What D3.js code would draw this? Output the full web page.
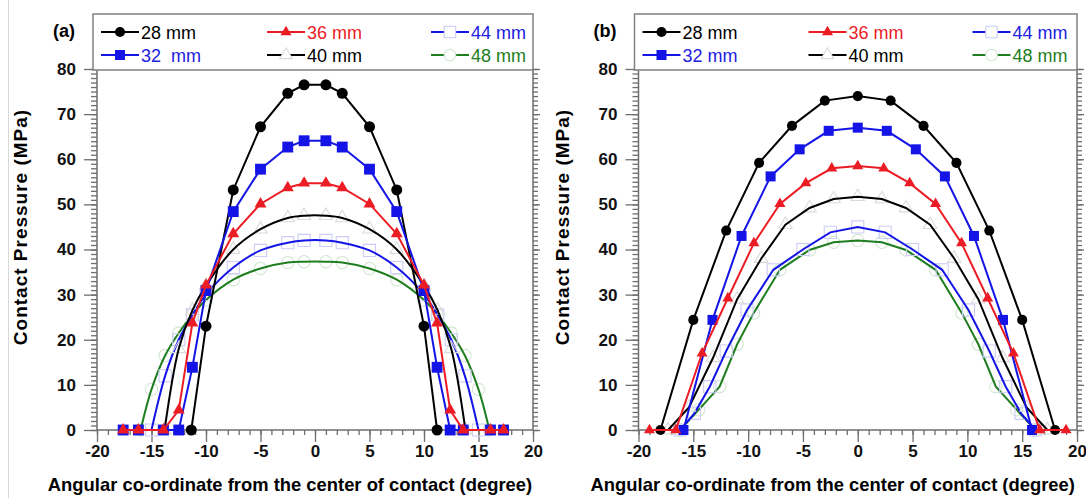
<!DOCTYPE html>
<html>
<head>
<meta charset="utf-8">
<script src="https://cdn.jsdelivr.net/npm/d3@7"></script>
<style>
  body { margin: 0; background: #fff; }
  text { font-family: "Liberation Sans", Arial, sans-serif; }
</style>
</head>
<body>
<div id="chart"></div>
<script>
// tick labels and texts
var xTicks = [-20, -15, -10, -5, 0, 5, 10, 15, 20];
var yTicks = [0, 10, 20, 30, 40, 50, 60, 70, 80];
var panelNames = ["(a)", "(b)"];
var legendA = ["28 mm", "32  mm", "36 mm", "40 mm", "44 mm", "48 mm"];
var legendB = ["28 mm", "32 mm", "36 mm", "40 mm", "44 mm", "48 mm"];
var xTitle = "Angular co-ordinate from the center of contact (degree)";
var yTitle = "Contact Pressure (MPa)";

// panel (a) values
var a28x = [-11.35, -10, -7.5, -5, -2.5, -1, 1, 2.5, 5, 7.5, 10, 11.2];
var a28y = [0, 23, 53.2, 67.2, 74.6, 76.5, 76.5, 74.6, 67.2, 53.2, 23, 0];
var a32x = [-17.6, -16.2, -13.9, -12.5, -11.25, -10, -7.5, -5, -2.5, -1, 1, 2.5, 5, 7.5, 10, 11.2, 12.4, 13.6, 16.1, 17.3];
var a32y = [0, 0, 0, 0, 13.9, 30.9, 48.4, 57.8, 62.7, 64.1, 64.1, 62.7, 57.8, 48.4, 30.9, 13.9, 0, 0, 0, 0];
var a36x = [-17.6, -16.2, -13.9, -12.5, -11.25, -10, -7.5, -5, -2.5, -1, 1, 2.5, 5, 7.5, 10, 11.2, 12.4, 13.6, 16.1, 17.3];
var a36y = [0, 0, 0, 4.4, 23.7, 32.1, 43.5, 50.1, 53.7, 54.7, 54.7, 53.7, 50.1, 43.5, 32.1, 23.7, 4.4, 0, 0, 0];
var a40x = [-13.8, -12.5, -11.25, -10, -7.5, -5, -2.5, -1, 1, 2.5, 5, 7.5, 10, 11.25, 12.5, 13.8];
var a40y = [0, 18, 26.5, 32, 40, 44.5, 47, 47.5, 47.5, 47, 44.5, 40, 32, 26.5, 18, 0];
var a44x = [-15, -13.75, -12.5, -11.25, -10, -7.5, -5, -2.5, -1, 1, 2.5, 5, 7.5, 10, 11.25, 12.5, 13.75, 15];
var a44y = [0, 12, 20, 25.5, 30, 36, 39.8, 41.5, 42, 42, 41.5, 39.8, 36, 30, 25.5, 20, 12, 0];
var a48x = [-16, -15, -13.75, -12.5, -11.25, -10, -7.5, -5, -2.5, -1, 1, 2.5, 5, 7.5, 10, 11.25, 12.5, 13.75, 15, 16];
var a48y = [0, 9, 16.5, 21.5, 25.5, 28.8, 33.3, 35.8, 37.1, 37.3, 37.3, 37.1, 35.8, 33.3, 28.8, 25.5, 21.5, 16.5, 9, 0];

// panel (b) values
var b28x = [-18, -15, -12, -9, -6, -3, 0, 3, 6, 9, 12, 15, 18];
var b28y = [0, 24.4, 44.2, 59.2, 67.4, 73, 74, 73, 67.4, 59.2, 44.2, 24.4, 0];
var b32x = [-15.9, -13.25, -10.6, -7.95, -5.3, -2.65, 0, 2.65, 5.3, 7.95, 10.6, 13.25, 15.9];
var b32y = [0, 24.4, 43, 56.2, 62.2, 66.3, 67, 66.3, 62.2, 56.2, 43, 24.4, 0];
var b36x = [-19, -16.6, -14.2, -11.85, -9.47, -7.1, -4.74, -2.37, 0, 2.37, 4.74, 7.1, 9.47, 11.85, 14.2, 16.6, 19];
var b36y = [0, 0, 17, 29.2, 41.4, 50.1, 54.7, 58, 58.5, 58, 54.7, 50.1, 41.4, 29.2, 17, 0, 0];
var b40x = [-17.3, -15.4, -13.2, -11, -8.8, -6.6, -4.4, -2.2, 0, 2.2, 4.4, 6.6, 8.8, 11, 13.2, 15.4, 17.3];
var b40y = [0, 5, 16, 29, 38, 45.5, 49.2, 51.2, 51.7, 51.2, 49.2, 45.5, 38, 29, 16, 5, 0];
var b44x = [-16.2, -14.9, -13.5, -12, -10.1, -7.7, -5, -2.5, 0, 2.5, 5, 7.7, 10.1, 12, 13.5, 14.9, 16.2];
var b44y = [0, 3.7, 9.6, 17.5, 26.6, 35.5, 40, 43.8, 45, 43.8, 40, 35.5, 26.6, 17.5, 9.6, 3.7, 0];
var b48x = [-16.2, -14.5, -12.6, -11, -9.5, -7.1, -4.4, -2.2, 0, 2.2, 4.4, 7.1, 9.5, 11, 12.6, 14.5, 16.2];
var b48y = [0, 4.5, 9.6, 19, 25.9, 35.5, 39.9, 41.6, 42, 41.6, 39.9, 35.5, 25.9, 19, 9.6, 4.5, 0];

// look of each series, in legend order 28, 32, 36, 40, 44, 48
var styles = [
  { color: "#000000", text: "#000000", shape: d3.symbolCircle, faint: false },
  { color: "#1414e6", text: "#2020e0", shape: d3.symbolSquare, faint: false },
  { color: "#ec1c24", text: "#ec1c24", shape: d3.symbolTriangle, faint: false },
  { color: "#000000", text: "#000000", shape: d3.symbolTriangle, faint: "#dadada" },
  { color: "#1414e6", text: "#2020e0", shape: d3.symbolSquare, faint: "#ccccf6" },
  { color: "#1e7d1e", text: "#1e7d1e", shape: d3.symbolCircle, faint: "#d2e6d2" }
];

var width = 1086, height = 498;
var plotTop = 69, plotBottom = 430;

var svg = d3.select("#chart").append("svg")
  .attr("width", width)
  .attr("height", height);

// thin grey edge at the left of the picture
svg.append("line")
  .attr("x1", 8.5).attr("x2", 8.5).attr("y1", 0).attr("y2", height)
  .attr("stroke", "#d8d8d8").attr("stroke-width", 1);

function zip(xs, ys) {
  return xs.map(function(x, i) { return [x, ys[i]]; });
}

function symbolSize(shape) {
  if (shape === d3.symbolCircle) return 95;
  if (shape === d3.symbolSquare) return 118;
  return 62;
}

function drawPanel(o) {
  var x = d3.scaleLinear().domain([-20, 20]).range([o.left, o.right]);
  var y = d3.scaleLinear().domain([0, 80]).range([plotBottom, plotTop]);
  var g = svg.append("g");
  var axisColor = "#6e6e6e";

  // minor ticks
  g.append("g").attr("transform", "translate(0," + plotBottom + ")")
    .call(d3.axisBottom(x).tickValues(d3.range(-20, 21, 1)).tickSize(5).tickFormat(""));
  g.append("g").attr("transform", "translate(" + o.left + ",0)")
    .call(d3.axisLeft(y).tickValues(d3.range(0, 81, 1)).tickSize(6).tickFormat(""));
  g.append("g").attr("transform", "translate(" + o.right + ",0)")
    .call(d3.axisRight(y).tickValues(d3.range(0, 81, 1)).tickSize(5).tickFormat(""));

  // major ticks with labels
  g.append("g").attr("transform", "translate(0," + plotBottom + ")")
    .call(d3.axisBottom(x).tickValues(xTicks).tickSize(12).tickPadding(3)
      .tickFormat(function(d) { return String(d); }));
  g.append("g").attr("transform", "translate(" + o.left + ",0)")
    .call(d3.axisLeft(y).tickValues(yTicks).tickSize(13).tickPadding(8)
      .tickFormat(function(d) { return String(d); }));
  g.append("g").attr("transform", "translate(" + o.right + ",0)")
    .call(d3.axisRight(y).tickValues(yTicks).tickSize(7).tickFormat(""));

  g.selectAll(".domain").remove();
  g.selectAll(".tick line").attr("stroke", axisColor).attr("stroke-width", 1.3);
  g.selectAll(".tick text")
    .attr("fill", "#111")
    .style("font-size", "17px")
    .style("font-weight", "bold");

  // frame
  g.append("rect")
    .attr("x", o.left).attr("y", plotTop)
    .attr("width", o.right - o.left).attr("height", plotBottom - plotTop)
    .attr("fill", "none").attr("stroke", axisColor).attr("stroke-width", 1.5);

  // faint series first: line + pale hollow markers
  var order = [5, 4, 3, 0, 1, 2];
  order.forEach(function(i) {
    var s = styles[i];
    var pts = o.series[i];
    var line = d3.line()
      .x(function(d) { return x(d[0]); })
      .y(function(d) { return y(d[1]); })
      .curve(s.faint && o.smooth ? d3.curveCatmullRom.alpha(0.5) : d3.curveLinear);
    if (s.faint) {
      g.append("g").selectAll("path").data(pts).enter().append("path")
        .attr("transform", function(d) { return "translate(" + x(d[0]) + "," + y(d[1]) + ")"; })
        .attr("d", d3.symbol().type(s.shape).size(symbolSize(s.shape) * 1.25))
        .attr("fill", "none").attr("stroke", s.faint).attr("stroke-width", 1.1);
    }
    g.append("path").datum(pts)
      .attr("d", line)
      .attr("fill", "none")
      .attr("stroke", s.color)
      .attr("stroke-width", 2);
    if (!s.faint) {
      g.append("g").selectAll("path").data(pts).enter().append("path")
        .attr("transform", function(d) { return "translate(" + x(d[0]) + "," + y(d[1]) + ")"; })
        .attr("d", d3.symbol().type(s.shape).size(symbolSize(s.shape) * o.mscale))
        .attr("fill", s.color);
    }
  });

  // legend box
  var bx = o.left - 4, by = 14;
  g.append("rect")
    .attr("x", bx).attr("y", by)
    .attr("width", o.right - bx).attr("height", plotTop - by + 1)
    .attr("fill", "#fff").attr("stroke", "#808080").attr("stroke-width", 1.5);

  var colX = [8, 174, 338];
  var rowY = [32, 55];
  var slot = [[0, 0], [0, 1], [1, 0], [1, 1], [2, 0], [2, 1]];
  o.labels.forEach(function(label, i) {
    var s = styles[i];
    var lx = bx + colX[slot[i][0]];
    var ly = rowY[slot[i][1]];
    g.append("line")
      .attr("x1", lx).attr("x2", lx + 38)
      .attr("y1", ly).attr("y2", ly)
      .attr("stroke", s.color).attr("stroke-width", 2);
    g.append("path")
      .attr("transform", "translate(" + (lx + 19) + "," + ly + ")")
      .attr("d", d3.symbol().type(s.shape).size(symbolSize(s.shape) * (s.faint ? 1.1 : 0.85)))
      .attr("fill", s.faint ? "#fff" : s.color)
      .attr("stroke", s.faint ? s.faint : "none")
      .attr("stroke-width", 1.1);
    g.append("text")
      .attr("x", lx + 40).attr("y", ly + 6.5)
      .attr("fill", s.text)
      .attr("xml:space", "preserve")
      .style("white-space", "pre")
      .style("font-size", "18px")
      .text(label);
  });

  // panel label
  g.append("text")
    .attr("x", o.left - 22).attr("y", 37)
    .attr("text-anchor", "end")
    .style("font-size", "18px").style("font-weight", "bold")
    .text(o.name);

  // axis titles
  g.append("text")
    .attr("x", (o.left + o.right) / 2 - 25).attr("y", 491)
    .attr("text-anchor", "middle")
    .style("font-size", "18.4px").style("font-weight", "bold")
    .text(xTitle);
  g.append("text")
    .attr("transform", "translate(" + (o.left - 70) + ",227) rotate(-90)")
    .attr("text-anchor", "middle")
    .style("font-size", "19px").style("font-weight", "bold")
    .style("letter-spacing", "1px")
    .text(yTitle);
}

drawPanel({
  left: 97, right: 533, name: panelNames[0], labels: legendA, smooth: true, mscale: 1,
  series: [zip(a28x, a28y), zip(a32x, a32y), zip(a36x, a36y), zip(a40x, a40y), zip(a44x, a44y), zip(a48x, a48y)]
});
drawPanel({
  left: 638.5, right: 1077, name: panelNames[1], labels: legendB, smooth: false, mscale: 0.85,
  series: [zip(b28x, b28y), zip(b32x, b32y), zip(b36x, b36y), zip(b40x, b40y), zip(b44x, b44y), zip(b48x, b48y)]
});
</script>
</body>
</html>
